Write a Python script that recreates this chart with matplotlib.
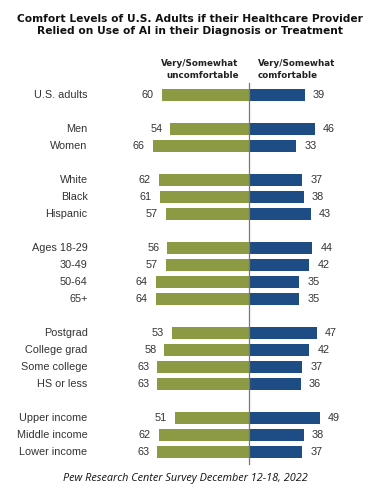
import matplotlib.pyplot as plt

# data
categories = ["U.S. adults",
              "Men", "Women",
              "White", "Black", "Hispanic",
              "Ages 18-29", "30-49", "50-64", "65+",
              "Postgrad", "College grad", "Some college", "HS or less",
              "Upper income", "Middle income", "Lower income"]
uncomfortable = [60, 54, 66, 62, 61, 57, 56, 57, 64, 64, 53, 58, 63, 63, 51, 62, 63]
comfortable = [39, 46, 33, 37, 38, 43, 44, 42, 35, 35, 47, 42, 37, 36, 49, 38, 37]
group_sizes = [1, 2, 3, 4, 4, 3]

title = ("Comfort Levels of U.S. Adults if their Healthcare Provider\n"
         "Relied on Use of AI in their Diagnosis or Treatment")
source = "Pew Research Center Survey December 12-18, 2022"

green = "#8d9a44"
blue = "#1e4c84"

# row positions, with a blank row between groups
rows = []
pos = 0
for n in group_sizes:
    rows += list(range(pos, pos + n))
    pos += n + 1

fig = plt.figure(figsize=(3.84, 4.96), dpi=100)
ax = fig.add_axes([0, 0, 1, 1])
ax.set_xlim(-171.4, 93.4)
ax.set_ylim(23.59, -5.59)
ax.axis("off")

ax.barh(rows, [-v for v in uncomfortable], height=0.7, color=green)
ax.barh(rows, comfortable, height=0.7, color=blue)
ax.plot([0, 0], [-0.7, 21.7], color="#777777", lw=0.9)

lab_font = dict(family="Liberation Sans", fontsize=7.8, color="#333333")
for r, cat, u, c in zip(rows, categories, uncomfortable, comfortable):
    ax.text(-111, r, cat, ha="right", va="center", **lab_font)
    ax.text(-u - 5.5, r, str(u), ha="right", va="center", **lab_font)
    ax.text(c + 5.5, r, str(c), ha="left", va="center", **lab_font)

hdr_font = dict(family="DejaVu Sans", fontsize=6.3, fontweight="bold", color="#222222")
ax.text(-7, -0.9, "Very/Somewhat\nuncomfortable", ha="right", va="bottom",
        multialignment="right", linespacing=1.35, **hdr_font)
ax.text(6.5, -0.9, "Very/Somewhat\ncomfortable", ha="left", va="bottom",
        linespacing=1.35, **hdr_font)

fig.text(0.495, 1 - 25 / 496, title, ha="center", va="center", family="DejaVu Sans",
         fontsize=7.7, fontweight="bold", color="#111111", linespacing=1.35)
fig.text(0.484, 1 - 478 / 496, source, ha="center", va="center", family="Open Sans",
         fontstyle="italic", fontsize=7.8, color="#111111")

fig.savefig("out.png", dpi=100)
